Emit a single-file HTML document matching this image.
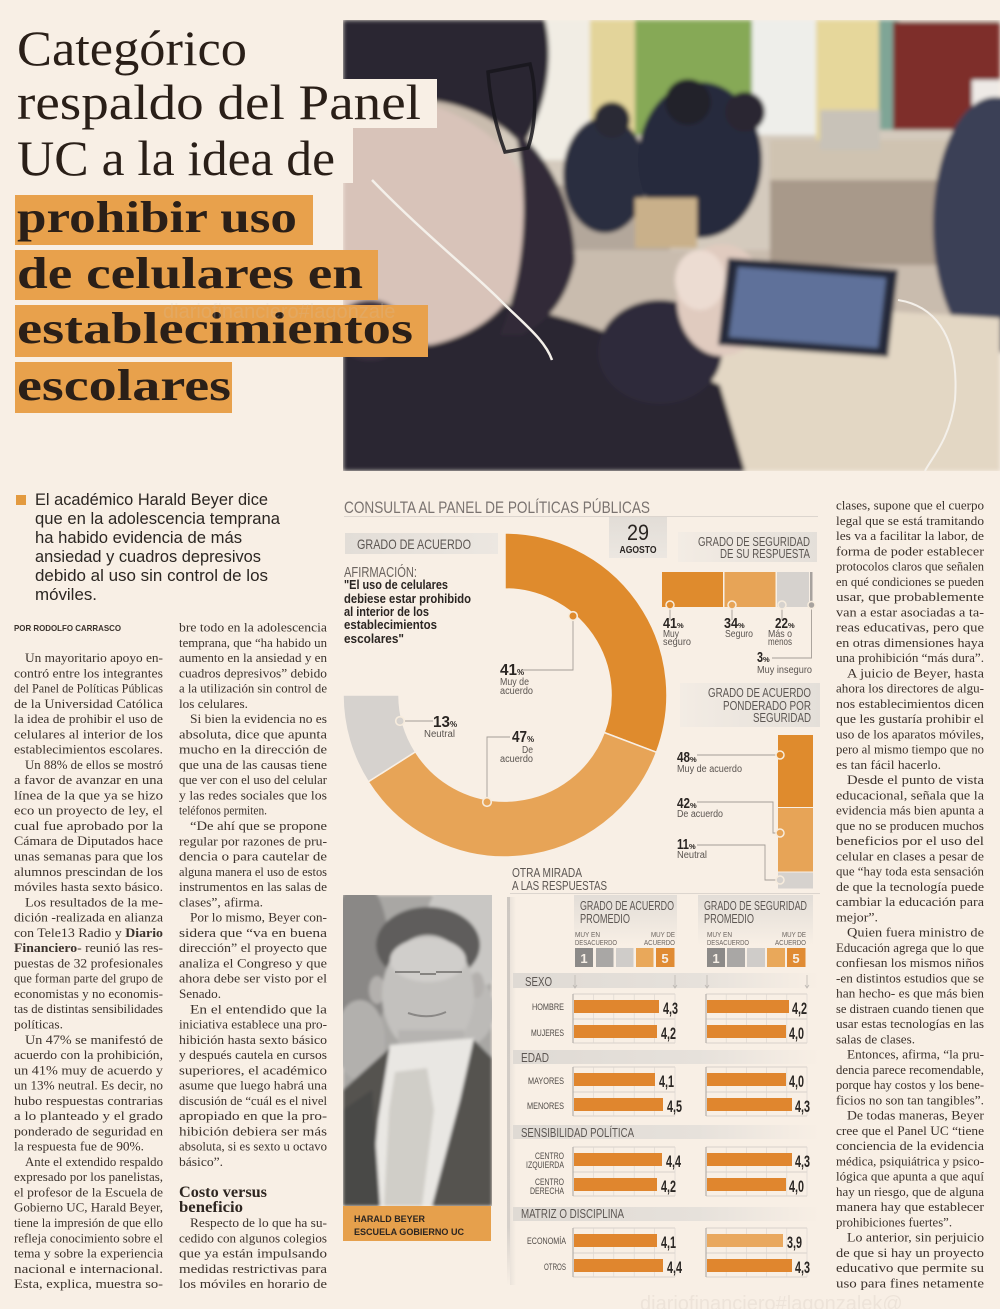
<!DOCTYPE html>
<html><head><meta charset="utf-8">
<style>
html,body{margin:0;padding:0;background:#f8efe5;width:1000px;height:1309px;overflow:hidden}
svg{display:block}
.bt text{font-family:"Liberation Serif",serif;font-size:13px;fill:#3b322c}
.n{font-family:"Liberation Sans Narrow","Liberation Sans",sans-serif}
.sa{font-family:"Liberation Sans",sans-serif}
</style></head><body>
<svg width="1000" height="1309" viewBox="0 0 1000 1309" xmlns="http://www.w3.org/2000/svg">
<defs>
<clipPath id="pc"><rect x="343" y="20" width="657" height="451"/></clipPath>
<clipPath id="hc"><rect x="343" y="895" width="149" height="311"/></clipPath>
<filter id="bl" x="0" y="0" width="1" height="1"><feGaussianBlur stdDeviation="2.2"/></filter>
<filter id="bl2" x="0" y="0" width="1" height="1"><feGaussianBlur stdDeviation="1.6"/></filter>
<linearGradient id="band" x1="0" x2="1" y1="0" y2="0"><stop offset="0" stop-color="#dfdad4"/><stop offset="0.6" stop-color="#e6e1db"/><stop offset="1" stop-color="#f8efe5"/></linearGradient>
<linearGradient id="hbox" x1="0" x2="0" y1="0" y2="1"><stop offset="0" stop-color="#e2ddd7"/><stop offset="1" stop-color="#f8efe5"/></linearGradient>
<linearGradient id="gbox" x1="0" x2="1" y1="0" y2="0"><stop offset="0" stop-color="#e2ddd7"/><stop offset="1" stop-color="#ece7e1"/></linearGradient>
<linearGradient id="gbox2" x1="0" x2="1" y1="0" y2="0"><stop offset="0" stop-color="#f3ece4"/><stop offset="1" stop-color="#e4dfd9"/></linearGradient>
<linearGradient id="vg" x1="0" x2="0" y1="0" y2="1"><stop offset="0" stop-color="#cdc7c1"/><stop offset="0.85" stop-color="#d6d0ca"/><stop offset="1" stop-color="#f8efe5"/></linearGradient>
<linearGradient id="sh" x1="0" x2="1" y1="0" y2="0"><stop offset="0" stop-color="#e4ddd6"/><stop offset="1" stop-color="#f8efe5"/></linearGradient>
<linearGradient id="agb" x1="0" x2="0" y1="0" y2="1"><stop offset="0" stop-color="#e2ddd7"/><stop offset="1" stop-color="#ece7e1"/></linearGradient>
</defs>

<rect x="0" y="0" width="1000" height="1309" fill="#f8efe5"/>

<!-- MAIN PHOTO -->
<g clip-path="url(#pc)">
<g filter="url(#bl)">
<rect x="343" y="20" width="657" height="451" fill="#c9bcae"/>
<rect x="500" y="20" width="500" height="230" fill="#d4cabd"/>
<rect x="530" y="20" width="65" height="140" fill="#f1ede4"/>
<rect x="590" y="20" width="45" height="150" fill="#e3d49a"/>
<rect x="635" y="20" width="117" height="115" fill="#86a957"/>
<rect x="752" y="20" width="64" height="115" fill="#eeeeea"/>
<rect x="816" y="20" width="63" height="120" fill="#e6d79b"/>
<rect x="879" y="20" width="20" height="110" fill="#7fa596"/>
<rect x="893" y="22" width="107" height="108" fill="#7e2e2a"/>
<rect x="972" y="80" width="28" height="100" fill="#eeeae6"/>
<rect x="540" y="185" width="130" height="65" fill="#b3a79b"/>
<rect x="770" y="140" width="210" height="40" fill="#cfc3b1"/>
<rect x="770" y="180" width="185" height="85" fill="#a8998a"/>
<rect x="820" y="110" width="60" height="40" fill="#c8c2b8"/>
<ellipse cx="605" cy="175" rx="42" ry="58" fill="#2b2f41"/>
<ellipse cx="700" cy="160" rx="62" ry="78" fill="#272b3d"/>
<circle cx="612" cy="120" r="18" fill="#2c2a34"/>
<circle cx="688" cy="102" r="23" fill="#24222c"/>
<circle cx="745" cy="112" r="20" fill="#2a2832"/>
<rect x="635" y="198" width="62" height="50" fill="#c9b08a"/>
<ellipse cx="995" cy="225" rx="62" ry="128" fill="#3b4156"/>
<polygon points="700,300 1000,318 1000,471 640,471" fill="#e3d7c4"/>
<path d="M343,300 C420,290 520,300 600,330 L720,385 L745,471 L343,471 Z" fill="#2c2633"/>
<path d="M343,95 C420,88 515,125 530,200 C542,270 505,330 430,345 L343,335 Z" fill="#d8c3b9"/>
<path d="M343,20 L545,20 C555,60 545,115 522,145 C480,100 420,92 343,102 Z" fill="#2b2730"/>
<path d="M515,130 C548,155 575,205 575,262 C565,305 545,322 522,335 L500,335 C522,282 532,205 515,130 Z" fill="#332c38"/>
<ellipse cx="660" cy="352" rx="62" ry="52" fill="#2f2a3a"/>
<ellipse cx="722" cy="300" rx="45" ry="56" fill="#e0cbbf"/>
<ellipse cx="700" cy="280" rx="25" ry="30" fill="#ecdcd2"/>
<polygon points="728,258 898,270 888,357 718,345" fill="#262b3a"/>
<polygon points="738,267 886,278 878,348 729,337" fill="#5f719a"/>
<ellipse cx="370" cy="330" rx="35" ry="30" fill="#3a3240"/>
</g>
<path d="M372,180 C420,230 470,270 500,300 C525,325 545,340 552,360" stroke="#f4f0ea" stroke-width="2.5" fill="none"/>
<path d="M898,300 C930,305 960,330 955,400 C950,440 930,460 925,471" stroke="#f4f0ea" stroke-width="2" fill="none"/>
<path d="M488,72 L530,64 C537,90 536,125 528,148 L505,152 C495,125 490,100 488,72 Z" stroke="#18161c" stroke-width="3.5" fill="none" opacity="0.85"/>
</g>

<!-- TITLE -->
<rect x="343" y="79" width="94" height="49" fill="#f8efe5"/>
<rect x="343" y="128" width="10" height="55" fill="#f8efe5"/>
<g font-family="Liberation Serif, serif" fill="#2a1f18">
<text x="17" y="65" font-size="50" textLength="230" lengthAdjust="spacingAndGlyphs">Categórico</text>
<text x="17" y="119" font-size="50" textLength="404" lengthAdjust="spacingAndGlyphs">respaldo del Panel</text>
<text x="17" y="175" font-size="50" textLength="318" lengthAdjust="spacingAndGlyphs">UC a la idea de</text>
</g>
<rect x="15" y="195" width="298" height="50" fill="#e8a14c"/>
<rect x="15" y="250" width="363" height="50" fill="#e8a14c"/>
<rect x="15" y="305" width="413" height="52" fill="#e8a14c"/>
<rect x="15" y="362" width="217" height="51" fill="#e8a14c"/>
<g font-family="Liberation Serif, serif" font-weight="bold" fill="#2a1f18" font-size="44">
<text x="17" y="232" textLength="280" lengthAdjust="spacingAndGlyphs">prohibir uso</text>
<text x="17" y="288" textLength="346" lengthAdjust="spacingAndGlyphs">de celulares en</text>
<text x="17" y="343" textLength="396" lengthAdjust="spacingAndGlyphs">establecimientos</text>
<text x="17" y="400" textLength="214" lengthAdjust="spacingAndGlyphs">escolares</text>
</g>
<text x="163" y="318" font-family="Liberation Sans, sans-serif" font-size="20" fill="#d2c5b6" opacity="0.2">diariofinanciero#lagonzale</text>

<!-- LEAD -->
<rect x="16" y="495" width="10" height="10" fill="#e39a3f"/>
<g class="sa" font-size="17" fill="#2b2622">
<text x="35" y="505" textLength="233" lengthAdjust="spacingAndGlyphs">El académico Harald Beyer dice</text>
<text x="35" y="524" textLength="245" lengthAdjust="spacingAndGlyphs">que en la adolescencia temprana</text>
<text x="35" y="543" textLength="207" lengthAdjust="spacingAndGlyphs">ha habido evidencia de más</text>
<text x="35" y="562" textLength="226" lengthAdjust="spacingAndGlyphs">ansiedad y cuadros depresivos</text>
<text x="35" y="581" textLength="233" lengthAdjust="spacingAndGlyphs">debido al uso sin control de los</text>
<text x="35" y="600" textLength="62" lengthAdjust="spacingAndGlyphs">móviles.</text>
</g>
<text x="14" y="631" class="sa" font-size="8.5" font-weight="bold" fill="#3a322c" textLength="107" lengthAdjust="spacingAndGlyphs">POR RODOLFO CARRASCO</text>

<!-- BODY COL 1 -->
<g class="bt">
<text x="25" y="662" textLength="138" lengthAdjust="spacingAndGlyphs">Un mayoritario apoyo en-</text>
<text x="14" y="677.3" textLength="149" lengthAdjust="spacingAndGlyphs">contró entre los integrantes</text>
<text x="14" y="692.5" textLength="149" lengthAdjust="spacingAndGlyphs">del Panel de Políticas Públicas</text>
<text x="14" y="707.8" textLength="149" lengthAdjust="spacingAndGlyphs">de la Universidad Católica</text>
<text x="14" y="723.1" textLength="149" lengthAdjust="spacingAndGlyphs">la idea de prohibir el uso de</text>
<text x="14" y="738.4" textLength="149" lengthAdjust="spacingAndGlyphs">celulares al interior de los</text>
<text x="14" y="753.6" textLength="149" lengthAdjust="spacingAndGlyphs">establecimientos escolares.</text>
<text x="25" y="768.9" textLength="138" lengthAdjust="spacingAndGlyphs">Un 88% de ellos se mostró</text>
<text x="14" y="784.2" textLength="149" lengthAdjust="spacingAndGlyphs">a favor de avanzar en una</text>
<text x="14" y="799.4" textLength="149" lengthAdjust="spacingAndGlyphs">línea de la que ya se hizo</text>
<text x="14" y="814.7" textLength="149" lengthAdjust="spacingAndGlyphs">eco un proyecto de ley, el</text>
<text x="14" y="830" textLength="149" lengthAdjust="spacingAndGlyphs">cual fue aprobado por la</text>
<text x="14" y="845.2" textLength="149" lengthAdjust="spacingAndGlyphs">Cámara de Diputados hace</text>
<text x="14" y="860.5" textLength="149" lengthAdjust="spacingAndGlyphs">unas semanas para que los</text>
<text x="14" y="875.8" textLength="149" lengthAdjust="spacingAndGlyphs">alumnos prescindan de los</text>
<text x="14" y="891.1" textLength="149" lengthAdjust="spacingAndGlyphs">móviles hasta sexto básico.</text>
<text x="25" y="906.3" textLength="138" lengthAdjust="spacingAndGlyphs">Los resultados de la me-</text>
<text x="14" y="921.6" textLength="149" lengthAdjust="spacingAndGlyphs">dición -realizada en alianza</text>
<text x="14" y="936.9" textLength="149" lengthAdjust="spacingAndGlyphs">con Tele13 Radio y <tspan font-weight="bold">Diario</tspan></text>
<text x="14" y="952.1" textLength="149" lengthAdjust="spacingAndGlyphs"><tspan font-weight="bold">Financiero</tspan>- reunió las res-</text>
<text x="14" y="967.4" textLength="149" lengthAdjust="spacingAndGlyphs">puestas de 32 profesionales</text>
<text x="14" y="982.7" textLength="149" lengthAdjust="spacingAndGlyphs">que forman parte del grupo de</text>
<text x="14" y="997.9" textLength="149" lengthAdjust="spacingAndGlyphs">economistas y no economis-</text>
<text x="14" y="1013.2" textLength="149" lengthAdjust="spacingAndGlyphs">tas de distintas sensibilidades</text>
<text x="14" y="1028.5" textLength="49" lengthAdjust="spacingAndGlyphs">políticas.</text>
<text x="25" y="1043.8" textLength="138" lengthAdjust="spacingAndGlyphs">Un 47% se manifestó de</text>
<text x="14" y="1059" textLength="149" lengthAdjust="spacingAndGlyphs">acuerdo con la prohibición,</text>
<text x="14" y="1074.3" textLength="149" lengthAdjust="spacingAndGlyphs">un 41% muy de acuerdo y</text>
<text x="14" y="1089.6" textLength="149" lengthAdjust="spacingAndGlyphs">un 13% neutral. Es decir, no</text>
<text x="14" y="1104.8" textLength="149" lengthAdjust="spacingAndGlyphs">hubo respuestas contrarias</text>
<text x="14" y="1120.1" textLength="149" lengthAdjust="spacingAndGlyphs">a lo planteado y el grado</text>
<text x="14" y="1135.4" textLength="149" lengthAdjust="spacingAndGlyphs">ponderado de seguridad en</text>
<text x="14" y="1150.6" textLength="130" lengthAdjust="spacingAndGlyphs">la respuesta fue de 90%.</text>
<text x="25" y="1165.9" textLength="138" lengthAdjust="spacingAndGlyphs">Ante el extendido respaldo</text>
<text x="14" y="1181.2" textLength="149" lengthAdjust="spacingAndGlyphs">expresado por los panelistas,</text>
<text x="14" y="1196.5" textLength="149" lengthAdjust="spacingAndGlyphs">el profesor de la Escuela de</text>
<text x="14" y="1211.7" textLength="149" lengthAdjust="spacingAndGlyphs">Gobierno UC, Harald Beyer,</text>
<text x="14" y="1227" textLength="149" lengthAdjust="spacingAndGlyphs">tiene la impresión de que ello</text>
<text x="14" y="1242.3" textLength="149" lengthAdjust="spacingAndGlyphs">refleja conocimiento sobre el</text>
<text x="14" y="1257.5" textLength="149" lengthAdjust="spacingAndGlyphs">tema y sobre la experiencia</text>
<text x="14" y="1272.8" textLength="149" lengthAdjust="spacingAndGlyphs">nacional e internacional.</text>
<text x="14" y="1288.1" textLength="149" lengthAdjust="spacingAndGlyphs">Esta, explica, muestra so-</text>
</g>

<!-- BODY COL 2 -->
<g class="bt">
<text x="179" y="631.5" textLength="148" lengthAdjust="spacingAndGlyphs">bre todo en la adolescencia</text>
<text x="179" y="646.8" textLength="148" lengthAdjust="spacingAndGlyphs">temprana, que “ha habido un</text>
<text x="179" y="662" textLength="148" lengthAdjust="spacingAndGlyphs">aumento en la ansiedad y en</text>
<text x="179" y="677.3" textLength="148" lengthAdjust="spacingAndGlyphs">cuadros depresivos” debido</text>
<text x="179" y="692.6" textLength="148" lengthAdjust="spacingAndGlyphs">a la utilización sin control de</text>
<text x="179" y="707.9" textLength="69" lengthAdjust="spacingAndGlyphs">los celulares.</text>
<text x="190" y="723.1" textLength="137" lengthAdjust="spacingAndGlyphs">Si bien la evidencia no es</text>
<text x="179" y="738.4" textLength="148" lengthAdjust="spacingAndGlyphs">absoluta, dice que apunta</text>
<text x="179" y="753.7" textLength="148" lengthAdjust="spacingAndGlyphs">mucho en la dirección de</text>
<text x="179" y="768.9" textLength="148" lengthAdjust="spacingAndGlyphs">que una de las causas tiene</text>
<text x="179" y="784.2" textLength="148" lengthAdjust="spacingAndGlyphs">que ver con el uso del celular</text>
<text x="179" y="799.5" textLength="148" lengthAdjust="spacingAndGlyphs">y las redes sociales que los</text>
<text x="179" y="814.7" textLength="88" lengthAdjust="spacingAndGlyphs">teléfonos permiten.</text>
<text x="190" y="830" textLength="137" lengthAdjust="spacingAndGlyphs">“De ahí que se propone</text>
<text x="179" y="845.3" textLength="148" lengthAdjust="spacingAndGlyphs">regular por razones de pru-</text>
<text x="179" y="860.6" textLength="148" lengthAdjust="spacingAndGlyphs">dencia o para cautelar de</text>
<text x="179" y="875.8" textLength="148" lengthAdjust="spacingAndGlyphs">alguna manera el uso de estos</text>
<text x="179" y="891.1" textLength="148" lengthAdjust="spacingAndGlyphs">instrumentos en las salas de</text>
<text x="179" y="906.4" textLength="84" lengthAdjust="spacingAndGlyphs">clases”, afirma.</text>
<text x="190" y="921.6" textLength="137" lengthAdjust="spacingAndGlyphs">Por lo mismo, Beyer con-</text>
<text x="179" y="936.9" textLength="148" lengthAdjust="spacingAndGlyphs">sidera que “va en buena</text>
<text x="179" y="952.2" textLength="148" lengthAdjust="spacingAndGlyphs">dirección” el proyecto que</text>
<text x="179" y="967.4" textLength="148" lengthAdjust="spacingAndGlyphs">analiza el Congreso y que</text>
<text x="179" y="982.7" textLength="148" lengthAdjust="spacingAndGlyphs">ahora debe ser visto por el</text>
<text x="179" y="998" textLength="42" lengthAdjust="spacingAndGlyphs">Senado.</text>
<text x="190" y="1013.3" textLength="137" lengthAdjust="spacingAndGlyphs">En el entendido que la</text>
<text x="179" y="1028.5" textLength="148" lengthAdjust="spacingAndGlyphs">iniciativa establece una pro-</text>
<text x="179" y="1043.8" textLength="148" lengthAdjust="spacingAndGlyphs">hibición hasta sexto básico</text>
<text x="179" y="1059.1" textLength="148" lengthAdjust="spacingAndGlyphs">y después cautela en cursos</text>
<text x="179" y="1074.3" textLength="148" lengthAdjust="spacingAndGlyphs">superiores, el académico</text>
<text x="179" y="1089.6" textLength="148" lengthAdjust="spacingAndGlyphs">asume que luego habrá una</text>
<text x="179" y="1104.9" textLength="148" lengthAdjust="spacingAndGlyphs">discusión de “cuál es el nivel</text>
<text x="179" y="1120.1" textLength="148" lengthAdjust="spacingAndGlyphs">apropiado en que la pro-</text>
<text x="179" y="1135.4" textLength="148" lengthAdjust="spacingAndGlyphs">hibición debiera ser más</text>
<text x="179" y="1150.7" textLength="148" lengthAdjust="spacingAndGlyphs">absoluta, si es sexto u octavo</text>
<text x="179" y="1166" textLength="44" lengthAdjust="spacingAndGlyphs">básico”.</text>
<text x="190" y="1227" textLength="137" lengthAdjust="spacingAndGlyphs">Respecto de lo que ha su-</text>
<text x="179" y="1242.3" textLength="148" lengthAdjust="spacingAndGlyphs">cedido con algunos colegios</text>
<text x="179" y="1257.5" textLength="148" lengthAdjust="spacingAndGlyphs">que ya están impulsando</text>
<text x="179" y="1272.8" textLength="148" lengthAdjust="spacingAndGlyphs">medidas restrictivas para</text>
<text x="179" y="1288.1" textLength="148" lengthAdjust="spacingAndGlyphs">los móviles en horario de</text>
</g>
<g font-family="Liberation Serif, serif" font-weight="bold" font-size="16" fill="#2e2621">
<text x="179" y="1197" textLength="88" lengthAdjust="spacingAndGlyphs">Costo versus</text>
<text x="179" y="1212" textLength="64" lengthAdjust="spacingAndGlyphs">beneficio</text>
</g>

<!-- BODY COL 3 -->
<g class="bt">
<text x="836" y="509.5" textLength="148" lengthAdjust="spacingAndGlyphs">clases, supone que el cuerpo</text>
<text x="836" y="524.8" textLength="148" lengthAdjust="spacingAndGlyphs">legal que se está tramitando</text>
<text x="836" y="540" textLength="148" lengthAdjust="spacingAndGlyphs">les va a facilitar la labor, de</text>
<text x="836" y="555.3" textLength="148" lengthAdjust="spacingAndGlyphs">forma de poder establecer</text>
<text x="836" y="570.5" textLength="148" lengthAdjust="spacingAndGlyphs">protocolos claros que señalen</text>
<text x="836" y="585.8" textLength="148" lengthAdjust="spacingAndGlyphs">en qué condiciones se pueden</text>
<text x="836" y="601" textLength="148" lengthAdjust="spacingAndGlyphs">usar, que probablemente</text>
<text x="836" y="616.3" textLength="148" lengthAdjust="spacingAndGlyphs">van a estar asociadas a ta-</text>
<text x="836" y="631.5" textLength="148" lengthAdjust="spacingAndGlyphs">reas educativas, pero que</text>
<text x="836" y="646.8" textLength="148" lengthAdjust="spacingAndGlyphs">en otras dimensiones haya</text>
<text x="836" y="662" textLength="148" lengthAdjust="spacingAndGlyphs">una prohibición “más dura”.</text>
<text x="847" y="677.3" textLength="137" lengthAdjust="spacingAndGlyphs">A juicio de Beyer, hasta</text>
<text x="836" y="692.5" textLength="148" lengthAdjust="spacingAndGlyphs">ahora los directores de algu-</text>
<text x="836" y="707.8" textLength="148" lengthAdjust="spacingAndGlyphs">nos establecimientos dicen</text>
<text x="836" y="723" textLength="148" lengthAdjust="spacingAndGlyphs">que les gustaría prohibir el</text>
<text x="836" y="738.3" textLength="148" lengthAdjust="spacingAndGlyphs">uso de los aparatos móviles,</text>
<text x="836" y="753.5" textLength="148" lengthAdjust="spacingAndGlyphs">pero al mismo tiempo que no</text>
<text x="836" y="768.8" textLength="105" lengthAdjust="spacingAndGlyphs">es tan fácil hacerlo.</text>
<text x="847" y="784" textLength="137" lengthAdjust="spacingAndGlyphs">Desde el punto de vista</text>
<text x="836" y="799.3" textLength="148" lengthAdjust="spacingAndGlyphs">educacional, señala que la</text>
<text x="836" y="814.5" textLength="148" lengthAdjust="spacingAndGlyphs">evidencia más bien apunta a</text>
<text x="836" y="829.8" textLength="148" lengthAdjust="spacingAndGlyphs">que no se producen muchos</text>
<text x="836" y="845" textLength="148" lengthAdjust="spacingAndGlyphs">beneficios por el uso del</text>
<text x="836" y="860.3" textLength="148" lengthAdjust="spacingAndGlyphs">celular en clases a pesar de</text>
<text x="836" y="875.5" textLength="148" lengthAdjust="spacingAndGlyphs">que “hay toda esta sensación</text>
<text x="836" y="890.8" textLength="148" lengthAdjust="spacingAndGlyphs">de que la tecnología puede</text>
<text x="836" y="906" textLength="148" lengthAdjust="spacingAndGlyphs">cambiar la educación para</text>
<text x="836" y="921.3" textLength="42" lengthAdjust="spacingAndGlyphs">mejor”.</text>
<text x="847" y="936.5" textLength="137" lengthAdjust="spacingAndGlyphs">Quien fuera ministro de</text>
<text x="836" y="951.8" textLength="148" lengthAdjust="spacingAndGlyphs">Educación agrega que lo que</text>
<text x="836" y="967" textLength="148" lengthAdjust="spacingAndGlyphs">confiesan los mismos niños</text>
<text x="836" y="982.3" textLength="148" lengthAdjust="spacingAndGlyphs">-en distintos estudios que se</text>
<text x="836" y="997.5" textLength="148" lengthAdjust="spacingAndGlyphs">han hecho- es que más bien</text>
<text x="836" y="1012.8" textLength="148" lengthAdjust="spacingAndGlyphs">se distraen cuando tienen que</text>
<text x="836" y="1028" textLength="148" lengthAdjust="spacingAndGlyphs">usar estas tecnologías en las</text>
<text x="836" y="1043.3" textLength="79" lengthAdjust="spacingAndGlyphs">salas de clases.</text>
<text x="847" y="1058.5" textLength="137" lengthAdjust="spacingAndGlyphs">Entonces, afirma, “la pru-</text>
<text x="836" y="1073.8" textLength="148" lengthAdjust="spacingAndGlyphs">dencia parece recomendable,</text>
<text x="836" y="1089" textLength="148" lengthAdjust="spacingAndGlyphs">porque hay costos y los bene-</text>
<text x="836" y="1104.3" textLength="148" lengthAdjust="spacingAndGlyphs">ficios no son tan tangibles”.</text>
<text x="847" y="1119.5" textLength="137" lengthAdjust="spacingAndGlyphs">De todas maneras, Beyer</text>
<text x="836" y="1134.8" textLength="148" lengthAdjust="spacingAndGlyphs">cree que el Panel UC “tiene</text>
<text x="836" y="1150" textLength="148" lengthAdjust="spacingAndGlyphs">conciencia de la evidencia</text>
<text x="836" y="1165.3" textLength="148" lengthAdjust="spacingAndGlyphs">médica, psiquiátrica y psico-</text>
<text x="836" y="1180.5" textLength="148" lengthAdjust="spacingAndGlyphs">lógica que apunta a que aquí</text>
<text x="836" y="1195.8" textLength="148" lengthAdjust="spacingAndGlyphs">hay un riesgo, que de alguna</text>
<text x="836" y="1211" textLength="148" lengthAdjust="spacingAndGlyphs">manera hay que establecer</text>
<text x="836" y="1226.3" textLength="116" lengthAdjust="spacingAndGlyphs">prohibiciones fuertes”.</text>
<text x="847" y="1241.5" textLength="137" lengthAdjust="spacingAndGlyphs">Lo anterior, sin perjuicio</text>
<text x="836" y="1256.8" textLength="148" lengthAdjust="spacingAndGlyphs">de que si hay un proyecto</text>
<text x="836" y="1272" textLength="148" lengthAdjust="spacingAndGlyphs">educativo que permite su</text>
<text x="836" y="1287.3" textLength="148" lengthAdjust="spacingAndGlyphs">uso para fines netamente</text>
</g>

<!-- CHART HEADER -->
<text x="344" y="513" class="n" font-size="17" fill="#7a7370" textLength="306" lengthAdjust="spacingAndGlyphs">CONSULTA AL PANEL DE POLÍTICAS PÚBLICAS</text>
<line x1="344" y1="516.5" x2="818" y2="516.5" stroke="#dcd5ce" stroke-width="1"/>

<rect x="345" y="533" width="153" height="21" fill="url(#gbox)"/>
<text x="357" y="549" class="n" font-size="14" fill="#5c5652" textLength="114" lengthAdjust="spacingAndGlyphs">GRADO DE ACUERDO</text>
<text x="344" y="577" class="n" font-size="14.5" fill="#6a635e" textLength="73" lengthAdjust="spacingAndGlyphs">AFIRMACIÓN:</text>
<g class="n" font-size="13" font-weight="bold" fill="#2a2522">
<text x="344" y="589" textLength="104" lengthAdjust="spacingAndGlyphs">"El uso de celulares</text>
<text x="344" y="603" textLength="127" lengthAdjust="spacingAndGlyphs">debiese estar prohibido</text>
<text x="344" y="616" textLength="85" lengthAdjust="spacingAndGlyphs">al interior de los</text>
<text x="344" y="629" textLength="93" lengthAdjust="spacingAndGlyphs">establecimientos</text>
<text x="344" y="643" textLength="60" lengthAdjust="spacingAndGlyphs">escolares"</text>
</g>

<!-- DONUT -->
<g stroke="#f8efe5" stroke-width="1.5">
<path d="M505,533 A162,162 0 0 1 656.5,752.3 L604.2,732.5 A106,106 0 0 0 505,589 Z" fill="#df8b2d"/>
<path d="M656.5,752.3 A162,162 0 0 1 368.2,781.8 L415.5,751.8 A106,106 0 0 0 604.2,732.5 Z" fill="#e7a457"/>
<path d="M368.2,781.8 A162,162 0 0 1 343,695 L399,695 A106,106 0 0 0 415.5,751.8 Z" fill="#d6d2ce"/>
</g>
<g stroke="#a39d97" stroke-width="0.9" fill="none">
<path d="M573,620.5 V670 H522"/>
<path d="M404.5,721 H433"/>
<path d="M487,797.5 V737 H510"/>
</g>
<g stroke="#f7ecdd" stroke-width="1.6">
<circle cx="573" cy="616" r="4.3" fill="#df8b2d"/>
<circle cx="400" cy="721" r="4.3" fill="#d6d2ce"/>
<circle cx="487" cy="802" r="4.3" fill="#e7a457"/>
</g>
<g class="n" fill="#2a2522" font-weight="bold">
<text x="500" y="675" font-size="16" textLength="17" lengthAdjust="spacingAndGlyphs">41</text><text x="517" y="675" font-size="8">%</text>
<text x="433" y="727" font-size="16" textLength="17" lengthAdjust="spacingAndGlyphs">13</text><text x="450" y="727" font-size="8">%</text>
<text x="512" y="742" font-size="16" textLength="15" lengthAdjust="spacingAndGlyphs">47</text><text x="527" y="742" font-size="8">%</text>
</g>
<g class="n" fill="#5a5450" font-size="10">
<text x="500" y="685" textLength="29" lengthAdjust="spacingAndGlyphs">Muy de</text>
<text x="500" y="694" textLength="33" lengthAdjust="spacingAndGlyphs">acuerdo</text>
<text x="424" y="737" textLength="31" lengthAdjust="spacingAndGlyphs">Neutral</text>
<text x="522" y="753" textLength="11" lengthAdjust="spacingAndGlyphs">De</text>
<text x="500" y="762" textLength="33" lengthAdjust="spacingAndGlyphs">acuerdo</text>
</g>

<!-- 29 AGOSTO -->
<rect x="609" y="517" width="58" height="41" fill="url(#agb)"/>
<text x="638" y="540" class="n" font-size="22" fill="#2a2522" text-anchor="middle" textLength="22" lengthAdjust="spacingAndGlyphs">29</text>
<text x="638" y="553" class="n" font-size="10" font-weight="bold" fill="#2a2522" text-anchor="middle" textLength="37" lengthAdjust="spacingAndGlyphs">AGOSTO</text>

<!-- SEGURIDAD -->
<rect x="678" y="532" width="139" height="30" fill="url(#gbox2)"/>
<g class="n" font-size="12.5" fill="#5c5652" text-anchor="end">
<text x="810" y="546" textLength="112" lengthAdjust="spacingAndGlyphs">GRADO DE SEGURIDAD</text>
<text x="810" y="558" textLength="90" lengthAdjust="spacingAndGlyphs">DE SU RESPUESTA</text>
</g>
<rect x="662" y="572" width="61" height="35" fill="#df8b2d"/>
<rect x="724.5" y="572" width="51" height="35" fill="#e7a457"/>
<rect x="777" y="572" width="32" height="35" fill="#d6d2ce"/>
<rect x="810" y="572" width="2.5" height="35" fill="#a7a29e"/>
<g stroke="#a39d97" stroke-width="0.9" fill="none">
<path d="M670,609.5 V620"/><path d="M732,609.5 V620"/><path d="M782,609.5 V620"/>
<path d="M811.5,609.5 V658 H772"/>
</g>
<g stroke="#f7ecdd" stroke-width="1.5">
<circle cx="670" cy="605" r="4" fill="#df8b2d"/>
<circle cx="732" cy="605" r="4" fill="#e7a457"/>
<circle cx="782" cy="605" r="4" fill="#d6d2ce"/>
<circle cx="811.5" cy="605" r="3.5" fill="#a7a29e"/>
</g>
<g class="n" fill="#2a2522" font-weight="bold">
<text x="663" y="628" font-size="15" textLength="14" lengthAdjust="spacingAndGlyphs">41</text><text x="677" y="628" font-size="7.5">%</text>
<text x="724" y="628" font-size="15" textLength="14" lengthAdjust="spacingAndGlyphs">34</text><text x="738" y="628" font-size="7.5">%</text>
<text x="775" y="628" font-size="15" textLength="13" lengthAdjust="spacingAndGlyphs">22</text><text x="788" y="628" font-size="7.5">%</text>
<text x="757" y="662" font-size="15" textLength="6" lengthAdjust="spacingAndGlyphs">3</text><text x="763" y="662" font-size="7.5">%</text>
</g>
<g class="n" fill="#5a5450" font-size="10">
<text x="663" y="637" textLength="16" lengthAdjust="spacingAndGlyphs">Muy</text>
<text x="663" y="645" textLength="28" lengthAdjust="spacingAndGlyphs">seguro</text>
<text x="725" y="637" textLength="28" lengthAdjust="spacingAndGlyphs">Seguro</text>
<text x="780" y="637" text-anchor="middle" textLength="24" lengthAdjust="spacingAndGlyphs">Más o</text>
<text x="780" y="645" text-anchor="middle" textLength="24" lengthAdjust="spacingAndGlyphs">menos</text>
<text x="757" y="673" textLength="55" lengthAdjust="spacingAndGlyphs">Muy inseguro</text>
</g>

<!-- PONDERADO -->
<rect x="680" y="683" width="140" height="44" fill="url(#gbox2)"/>
<g class="n" font-size="12.5" fill="#5c5652" text-anchor="end">
<text x="811" y="697" textLength="103" lengthAdjust="spacingAndGlyphs">GRADO DE ACUERDO</text>
<text x="811" y="710" textLength="88" lengthAdjust="spacingAndGlyphs">PONDERADO POR</text>
<text x="811" y="722" textLength="58" lengthAdjust="spacingAndGlyphs">SEGURIDAD</text>
</g>
<rect x="778" y="735" width="35" height="72" fill="#df8b2d"/>
<rect x="778" y="808" width="35" height="63.5" fill="#e7a457"/>
<rect x="778" y="872.5" width="35" height="16" fill="#d6d2ce"/>
<g stroke="#a39d97" stroke-width="0.9" fill="none">
<path d="M697,755 H775.5"/>
<path d="M697,802 H773 V833 H775.5"/>
<path d="M697,845 H765 V880 H775.5"/>
</g>
<g stroke="#f7ecdd" stroke-width="1.5">
<circle cx="780" cy="755" r="4" fill="#df8b2d"/>
<circle cx="780" cy="833" r="4" fill="#e7a457"/>
<circle cx="780" cy="880" r="4" fill="#d6d2ce"/>
</g>
<g class="n" fill="#2a2522" font-weight="bold">
<text x="677" y="762" font-size="15" textLength="13" lengthAdjust="spacingAndGlyphs">48</text><text x="690" y="762" font-size="7.5">%</text>
<text x="677" y="808" font-size="15" textLength="13" lengthAdjust="spacingAndGlyphs">42</text><text x="690" y="808" font-size="7.5">%</text>
<text x="677" y="849" font-size="15" textLength="12" lengthAdjust="spacingAndGlyphs">11</text><text x="689" y="849" font-size="7.5">%</text>
</g>
<g class="n" fill="#5a5450" font-size="10">
<text x="677" y="772" textLength="65" lengthAdjust="spacingAndGlyphs">Muy de acuerdo</text>
<text x="677" y="817" textLength="46" lengthAdjust="spacingAndGlyphs">De acuerdo</text>
<text x="677" y="858" textLength="30" lengthAdjust="spacingAndGlyphs">Neutral</text>
</g>

<!-- OTRA MIRADA -->
<g class="n" font-size="13" fill="#5c5652">
<text x="512" y="877" textLength="70" lengthAdjust="spacingAndGlyphs">OTRA MIRADA</text>
<text x="512" y="890" textLength="95" lengthAdjust="spacingAndGlyphs">A LAS RESPUESTAS</text>
</g>
<line x1="510" y1="893.5" x2="820" y2="893.5" stroke="#dcd5ce" stroke-width="1"/>
<rect x="507" y="897" width="3" height="388" fill="url(#vg)"/>
<rect x="510" y="897" width="6" height="388" fill="url(#sh)" opacity="0.7"/>

<!-- HEADER BOXES -->
<rect x="574" y="895" width="103" height="50" fill="url(#hbox)"/>
<rect x="698" y="895" width="115" height="50" fill="url(#hbox)"/>
<g class="n" font-size="12.5" fill="#5c5652">
<text x="580" y="910" textLength="94" lengthAdjust="spacingAndGlyphs">GRADO DE ACUERDO</text>
<text x="580" y="923" textLength="50" lengthAdjust="spacingAndGlyphs">PROMEDIO</text>
<text x="704" y="910" textLength="103" lengthAdjust="spacingAndGlyphs">GRADO DE SEGURIDAD</text>
<text x="704" y="923" textLength="50" lengthAdjust="spacingAndGlyphs">PROMEDIO</text>
</g>
<g class="n" font-size="7" fill="#6a635e">
<text x="575" y="937" textLength="25" lengthAdjust="spacingAndGlyphs">MUY EN</text>
<text x="575" y="945" textLength="42" lengthAdjust="spacingAndGlyphs">DESACUERDO</text>
<text x="675" y="937" text-anchor="end" textLength="24" lengthAdjust="spacingAndGlyphs">MUY DE</text>
<text x="675" y="945" text-anchor="end" textLength="31" lengthAdjust="spacingAndGlyphs">ACUERDO</text>
<text x="707" y="937" textLength="25" lengthAdjust="spacingAndGlyphs">MUY EN</text>
<text x="707" y="945" textLength="42" lengthAdjust="spacingAndGlyphs">DESACUERDO</text>
<text x="806" y="937" text-anchor="end" textLength="24" lengthAdjust="spacingAndGlyphs">MUY DE</text>
<text x="806" y="945" text-anchor="end" textLength="31" lengthAdjust="spacingAndGlyphs">ACUERDO</text>
</g>
<g>
<rect x="575" y="948" width="18" height="19" fill="#8c8a88"/>
<rect x="596" y="948" width="17.5" height="19" fill="#a9a7a5"/>
<rect x="616" y="948" width="17.5" height="19" fill="#cfccc9"/>
<rect x="636" y="948" width="17.5" height="19" fill="#e9a85a"/>
<rect x="656" y="948" width="18.5" height="19" fill="#e08b33"/>
<rect x="707" y="948" width="18" height="19" fill="#8c8a88"/>
<rect x="727" y="948" width="18" height="19" fill="#a9a7a5"/>
<rect x="747" y="948" width="18" height="19" fill="#cfccc9"/>
<rect x="767" y="948" width="18" height="19" fill="#e9a85a"/>
<rect x="787" y="948" width="18.5" height="19" fill="#e08b33"/>
</g>
<g class="sa" font-size="13" font-weight="bold" fill="#f6efe6" text-anchor="middle">
<text x="584" y="963">1</text><text x="665" y="963">5</text>
<text x="716" y="963">1</text><text x="796" y="963">5</text>
</g>

<!-- SECTION BANDS -->
<rect x="513" y="973" width="307" height="15" fill="url(#band)"/>
<rect x="513" y="1050" width="307" height="14" fill="url(#band)"/>
<rect x="513" y="1125" width="307" height="14" fill="url(#band)"/>
<rect x="513" y="1207" width="307" height="14" fill="url(#band)"/>
<g class="n" font-size="13" fill="#5c5652">
<text x="525" y="986" textLength="27" lengthAdjust="spacingAndGlyphs">SEXO</text>
<text x="521" y="1062" textLength="28" lengthAdjust="spacingAndGlyphs">EDAD</text>
<text x="521" y="1137" textLength="113" lengthAdjust="spacingAndGlyphs">SENSIBILIDAD POLÍTICA</text>
<text x="521" y="1218" textLength="103" lengthAdjust="spacingAndGlyphs">MATRIZ O DISCIPLINA</text>
</g>
<g stroke="#bdb8b3" stroke-width="0.8" fill="none">
<path d="M575,975 V988 M573,985 L575,988 L577,985"/>
<path d="M675,975 V988 M673,985 L675,988 L677,985"/>
<path d="M707,975 V988 M705,985 L707,988 L709,985"/>
<path d="M807,975 V988 M805,985 L807,988 L809,985"/>
</g>

<!-- BAR FRAMES -->
<g stroke="#cdc8c3" stroke-width="0.8" fill="none">
<path d="M573,994 H675 M573,1019 H675 M573,1043 H675 M706,994 H807 M706,1019 H807 M706,1043 H807"/>
<path d="M573,1067 H675 M573,1092 H675 M573,1116 H675 M706,1067 H807 M706,1092 H807 M706,1116 H807"/>
<path d="M573,1147 H675 M573,1172 H675 M573,1196 H675 M706,1147 H807 M706,1172 H807 M706,1196 H807"/>
<path d="M573,1228 H675 M573,1253 H675 M573,1277 H675 M706,1228 H807 M706,1253 H807 M706,1277 H807"/>
</g>
<g stroke="#b5b0ab" stroke-width="1.2">
<path d="M573,994 V1043 M706,994 V1043 M573,1067 V1116 M706,1067 V1116 M573,1147 V1196 M706,1147 V1196 M573,1228 V1277 M706,1228 V1277"/>
</g>
<g stroke="#ddd7d1" stroke-width="0.7">
<path d="M593.4,994 V1043 M613.8,994 V1043 M634.2,994 V1043 M654.6,994 V1043 M675,994 V1043 M726.2,994 V1043 M746.4,994 V1043 M766.6,994 V1043 M786.8,994 V1043 M807,994 V1043"/>
<path d="M593.4,1067 V1116 M613.8,1067 V1116 M634.2,1067 V1116 M654.6,1067 V1116 M675,1067 V1116 M726.2,1067 V1116 M746.4,1067 V1116 M766.6,1067 V1116 M786.8,1067 V1116 M807,1067 V1116"/>
<path d="M593.4,1147 V1196 M613.8,1147 V1196 M634.2,1147 V1196 M654.6,1147 V1196 M675,1147 V1196 M726.2,1147 V1196 M746.4,1147 V1196 M766.6,1147 V1196 M786.8,1147 V1196 M807,1147 V1196"/>
<path d="M593.4,1228 V1277 M613.8,1228 V1277 M634.2,1228 V1277 M654.6,1228 V1277 M675,1228 V1277 M726.2,1228 V1277 M746.4,1228 V1277 M766.6,1228 V1277 M786.8,1228 V1277 M807,1228 V1277"/>
</g>

<!-- BARS -->
<g fill="#e0862e">
<rect x="574" y="1000" width="85" height="13"/>
<rect x="574" y="1025" width="83" height="13"/>
<rect x="707" y="1000" width="82" height="13"/>
<rect x="707" y="1025" width="79" height="13"/>
<rect x="574" y="1073" width="81" height="13"/>
<rect x="574" y="1098" width="89" height="13"/>
<rect x="707" y="1073" width="79" height="13"/>
<rect x="707" y="1098" width="85" height="13"/>
<rect x="574" y="1153" width="88" height="13"/>
<rect x="574" y="1178" width="83" height="13"/>
<rect x="707" y="1153" width="85" height="13"/>
<rect x="707" y="1178" width="79" height="13"/>
<rect x="574" y="1234" width="83" height="13"/>
<rect x="574" y="1259" width="89" height="13"/>
<rect x="707" y="1259" width="85" height="13"/>
</g>
<rect x="707" y="1234" width="76" height="13" fill="#e9a85e"/>

<g class="n" font-size="17" font-weight="bold" fill="#2b2724">
<text x="663" y="1014" textLength="15" lengthAdjust="spacingAndGlyphs">4,3</text>
<text x="661" y="1039" textLength="15" lengthAdjust="spacingAndGlyphs">4,2</text>
<text x="792" y="1014" textLength="15" lengthAdjust="spacingAndGlyphs">4,2</text>
<text x="789" y="1039" textLength="15" lengthAdjust="spacingAndGlyphs">4,0</text>
<text x="659" y="1087" textLength="15" lengthAdjust="spacingAndGlyphs">4,1</text>
<text x="667" y="1112" textLength="15" lengthAdjust="spacingAndGlyphs">4,5</text>
<text x="789" y="1087" textLength="15" lengthAdjust="spacingAndGlyphs">4,0</text>
<text x="795" y="1112" textLength="15" lengthAdjust="spacingAndGlyphs">4,3</text>
<text x="666" y="1167" textLength="15" lengthAdjust="spacingAndGlyphs">4,4</text>
<text x="661" y="1192" textLength="15" lengthAdjust="spacingAndGlyphs">4,2</text>
<text x="795" y="1167" textLength="15" lengthAdjust="spacingAndGlyphs">4,3</text>
<text x="789" y="1192" textLength="15" lengthAdjust="spacingAndGlyphs">4,0</text>
<text x="661" y="1248" textLength="15" lengthAdjust="spacingAndGlyphs">4,1</text>
<text x="667" y="1273" textLength="15" lengthAdjust="spacingAndGlyphs">4,4</text>
<text x="787" y="1248" textLength="15" lengthAdjust="spacingAndGlyphs">3,9</text>
<text x="795" y="1273" textLength="15" lengthAdjust="spacingAndGlyphs">4,3</text>
</g>
<g class="n" font-size="9.5" fill="#4f4a46" text-anchor="end">
<text x="564" y="1010" textLength="32" lengthAdjust="spacingAndGlyphs">HOMBRE</text>
<text x="564" y="1036" textLength="33" lengthAdjust="spacingAndGlyphs">MUJERES</text>
<text x="564" y="1084" textLength="36" lengthAdjust="spacingAndGlyphs">MAYORES</text>
<text x="564" y="1109" textLength="37" lengthAdjust="spacingAndGlyphs">MENORES</text>
<text x="564" y="1159" textLength="29" lengthAdjust="spacingAndGlyphs">CENTRO</text>
<text x="564" y="1168" textLength="38" lengthAdjust="spacingAndGlyphs">IZQUIERDA</text>
<text x="564" y="1185" textLength="29" lengthAdjust="spacingAndGlyphs">CENTRO</text>
<text x="564" y="1194" textLength="34" lengthAdjust="spacingAndGlyphs">DERECHA</text>
<text x="566" y="1244" textLength="39" lengthAdjust="spacingAndGlyphs">ECONOMÍA</text>
<text x="566" y="1270" textLength="22" lengthAdjust="spacingAndGlyphs">OTROS</text>
</g>

<!-- HARALD PHOTO -->
<g clip-path="url(#hc)">
<g filter="url(#bl2)">
<rect x="343" y="895" width="149" height="311" fill="#a9a7a4"/>
<ellipse cx="470" cy="930" rx="45" ry="60" fill="#c9c7c4"/>
<ellipse cx="360" cy="960" rx="30" ry="80" fill="#8a8886"/>
<ellipse cx="455" cy="1010" rx="40" ry="40" fill="#bcbab7"/>
<ellipse cx="360" cy="1040" rx="25" ry="40" fill="#b2b0ad"/>
<ellipse cx="428" cy="945" rx="52" ry="38" fill="#5f5d5b"/>
<ellipse cx="377" cy="990" rx="8" ry="14" fill="#b3b0ad"/>
<ellipse cx="477" cy="985" rx="7" ry="13" fill="#b3b0ad"/>
<ellipse cx="428" cy="995" rx="46" ry="60" fill="#c3c1be"/>
<ellipse cx="428" cy="960" rx="38" ry="22" fill="#d0cecb"/>
<rect x="398" y="1030" width="66" height="40" fill="#b6b4b1"/>
<path d="M343,1090 L390,1048 L472,1038 L492,1058 L492,1206 L343,1206 Z" fill="#545250"/>
<path d="M390,1045 L474,1038 L460,1100 L432,1206 L370,1206 L378,1120 Z" fill="#e9e7e3"/>
<path d="M395,1072 L427,1068 L434,1110 L422,1206 L384,1206 L389,1110 Z" fill="#d0cec8"/>
<path d="M343,1110 L372,1090 L380,1206 L343,1206 Z" fill="#4a4846"/>
</g>
<path d="M395,972 H420 M436,972 H462 M420,974 H436" stroke="#6d6b69" stroke-width="1.5" fill="none"/>
<path d="M408,1013 Q428,1020 446,1012" stroke="#8a8886" stroke-width="2" fill="none"/>
</g>
<rect x="343" y="1206" width="148" height="35" fill="#e6a04c"/>
<g class="sa" font-size="9.5" font-weight="bold" fill="#2b2521">
<text x="354" y="1222" textLength="71" lengthAdjust="spacingAndGlyphs">HARALD BEYER</text>
<text x="354" y="1235" textLength="110" lengthAdjust="spacingAndGlyphs">ESCUELA GOBIERNO UC</text>
</g>

<text x="640" y="1310" font-family="Liberation Sans, sans-serif" font-size="20" fill="#e0d6cb" opacity="0.45">diariofinanciero#lagonzalek@</text>
</svg>
</body></html>
